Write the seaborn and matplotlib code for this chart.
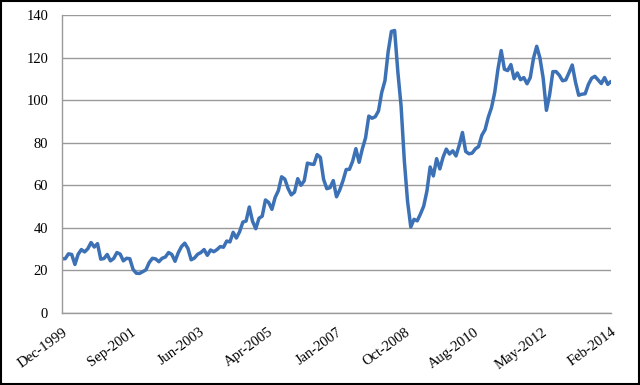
import numpy as np
import pandas as pd
import matplotlib
matplotlib.use("Agg")
import matplotlib.pyplot as plt
import seaborn as sns
from matplotlib.patches import Rectangle

# Monthly prices, Dec-1999 .. Feb-2014
prices = [
    25.5,
    25.5, 27.8, 27.5, 22.8, 27.6, 29.8, 28.7, 30.2, 33.1, 31.0, 32.6, 25.3,
    25.6, 27.5, 24.5, 25.6, 28.4, 27.7, 24.5, 25.7, 25.5, 20.5, 18.7, 18.6,
    19.4, 20.3, 23.7, 25.7, 25.4, 24.1, 25.7, 26.3, 28.4, 27.5, 24.3, 28.3,
    31.2, 32.8, 30.3, 25.0, 25.8, 27.6, 28.4, 29.8, 27.1, 29.6, 28.8, 29.8,
    31.2, 30.9, 33.8, 33.4, 37.9, 35.2, 38.2, 42.7, 43.2, 49.8, 43.1, 39.6,
    44.5, 45.5, 53.1, 51.9, 48.7, 54.3, 57.5, 64.0, 62.9, 58.5, 55.5, 56.8,
    63.1, 60.0, 62.1, 70.4, 70.0, 69.8, 74.4, 73.1, 62.8, 58.4, 58.9, 62.2,
    54.6, 57.8, 62.1, 67.4, 67.5, 71.3, 77.2, 70.8, 77.1, 82.3, 92.5, 91.5,
    92.2, 94.9, 103.6, 109.1, 122.8, 132.3, 132.7, 113.2, 97.2, 71.6, 52.5, 40.4,
    44.0, 43.3, 46.5, 50.2, 57.3, 68.6, 64.4, 72.5, 67.7, 73.2, 77.0, 74.7,
    76.2, 73.8, 78.8, 84.8, 75.9, 74.8, 75.1, 77.1, 78.2, 83.5, 86.1, 92.0,
    96.5, 103.7, 114.6, 123.3, 114.5, 113.9, 116.7, 110.1, 112.8, 109.6, 110.6, 107.7,
    110.6, 119.7, 125.3, 119.8, 110.3, 95.2, 102.6, 113.4, 113.4, 111.7, 109.1, 109.5,
    112.9, 116.5, 108.5, 102.3, 102.8, 103.0, 107.4, 110.3, 111.2, 109.5, 107.8, 110.6,
    107.4, 108.8,
]
tick_labels = ["Dec-1999", "Sep-2001", "Jun-2003", "Apr-2005", "Jan-2007",
               "Oct-2008", "Aug-2010", "May-2012", "Feb-2014"]
y_ticks = [0, 20, 40, 60, 80, 100, 120, 140]

df = pd.DataFrame({"idx": np.arange(len(prices)), "price": prices})

sns.set_style("white")
plt.rcParams["font.family"] = ["Liberation Serif", "DejaVu Serif"]

fig = plt.figure(figsize=(6.4, 3.85), dpi=100)
ax = fig.add_axes([62/640, 1 - 313/385, (611-62)/640, (313-15)/385])

sns.lineplot(data=df, x="idx", y="price", ax=ax, color="#3C71B6", linewidth=2.5)

n = len(prices) - 1
ax.set_xlim(0, n)
ax.set_ylim(0, 140)
ax.set_xticks(np.linspace(0, n, len(tick_labels)))
ax.set_xticklabels(tick_labels, rotation=36, ha="right", rotation_mode="anchor", fontsize=10.5)
ax.set_yticks(y_ticks)
ax.set_yticklabels([str(v) for v in y_ticks], fontsize=10.5)
ax.set_xlabel("")
ax.set_ylabel("")
ax.grid(axis="y", color="#9A9A9A", linewidth=1.0)
ax.set_axisbelow(True)
for s in ["top", "right"]:
    ax.spines[s].set_visible(False)
for s in ["left", "bottom"]:
    ax.spines[s].set_color("#9A9A9A")
    ax.spines[s].set_linewidth(1.0)
ax.tick_params(axis="both", direction="out", length=5, width=1, color="#9A9A9A",
               labelcolor="black")
ax.tick_params(axis="y", pad=5)
ax.tick_params(axis="x", pad=4)

fig.patches.append(Rectangle((0.0015, 0.0025), 0.997, 0.995, transform=fig.transFigure,
                             fill=False, edgecolor="black", linewidth=1.5))

fig.savefig("out.png", dpi=100)
